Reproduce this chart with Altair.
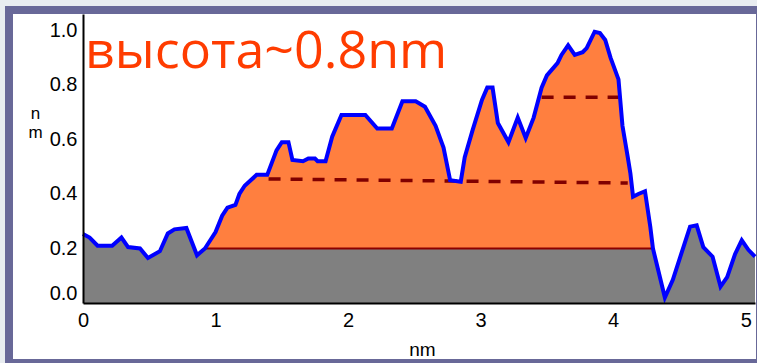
import altair as alt
import pandas as pd

# Height profile along the scan line (nm vs nm)
profile_x = [0.00, 0.05, 0.11, 0.22, 0.29, 0.34, 0.43, 0.49, 0.58, 0.64, 0.69, 0.78,
             0.86, 0.92, 1.00, 1.05, 1.09, 1.15, 1.18, 1.22, 1.31, 1.39, 1.46, 1.50,
             1.55, 1.58, 1.66, 1.70, 1.75, 1.77, 1.83, 1.88, 1.95, 2.13, 2.22, 2.33,
             2.41, 2.51, 2.58, 2.66, 2.72, 2.77, 2.85, 2.88, 2.94, 3.01, 3.05, 3.09,
             3.13, 3.21, 3.28, 3.34, 3.40, 3.46, 3.50, 3.58, 3.61, 3.66, 3.71, 3.77,
             3.80, 3.86, 3.90, 3.94, 3.98, 4.04, 4.07, 4.11, 4.13, 4.15, 4.19, 4.24,
             4.28, 4.30, 4.34, 4.39, 4.45, 4.53, 4.58, 4.63, 4.68, 4.75, 4.81, 4.86,
             4.92, 4.97, 5.02, 5.07]
profile_y = [0.253, 0.24, 0.21, 0.21, 0.24, 0.205, 0.20, 0.165, 0.19, 0.255, 0.27, 0.275,
             0.175, 0.20, 0.26, 0.32, 0.35, 0.36, 0.40, 0.43, 0.47, 0.47, 0.56, 0.59,
             0.59, 0.525, 0.52, 0.53, 0.53, 0.52, 0.52, 0.61, 0.69, 0.69, 0.64, 0.64,
             0.74, 0.74, 0.72, 0.65, 0.57, 0.45, 0.445, 0.535, 0.635, 0.745, 0.79, 0.79,
             0.66, 0.59, 0.68, 0.605, 0.68, 0.79, 0.835, 0.88, 0.91, 0.945, 0.91, 0.92,
             0.935, 0.995, 0.99, 0.965, 0.90, 0.82, 0.65, 0.535, 0.475, 0.39, 0.40, 0.41,
             0.28, 0.20, 0.12, 0.02, 0.085, 0.205, 0.28, 0.285, 0.205, 0.17, 0.06, 0.095,
             0.18, 0.23, 0.195, 0.17]

# Island extent and substrate level
island_start = 0.92
island_end = 4.30
base_level = 0.2

# Terrace levels (dashed)
terrace_id = ["low", "low", "high", "high"]
terrace_x = [1.40, 4.11, 3.46, 4.04]
terrace_y = [0.455, 0.44, 0.755, 0.755]

x_ticks = [0, 1, 2, 3, 4, 5]
y_ticks = [0.0, 0.2, 0.4, 0.6, 0.8, 1.0]
annotation = "высота~0.8nm"

profile = pd.DataFrame({"x": profile_x, "y": profile_y})
island = profile[(profile.x >= island_start) & (profile.x <= island_end)]
terraces = pd.DataFrame({"seg": terrace_id, "x": terrace_x, "y": terrace_y})

x_scale = alt.Scale(domain=[0, 5.07], nice=False, zero=False)
y_scale = alt.Scale(domain=[0, 1.06], nice=False)

label_font = "Liberation Sans"

x_axis = alt.Axis(values=x_ticks, format="d", labelFlush=False, ticks=False, grid=False,
                  domainColor="black", domainWidth=2, labelFont=label_font,
                  labelFontSize=20, labelColor="black", labelPadding=7,
                  title="nm", titleFont=label_font, titleFontSize=19,
                  titleFontWeight="normal", titleColor="black", titleX=339, titleY=52,
                  titleAlign="center", titleBaseline="alphabetic", zindex=1)
y_axis = alt.Axis(values=y_ticks, format=".1f", labelFlush=True, ticks=False, grid=False,
                  domainColor="black", domainWidth=2, labelFont=label_font,
                  labelFontSize=20, labelColor="black", labelPadding=6,
                  title=["n", "m"], titleFont=label_font, titleFontSize=17,
                  titleFontWeight="normal", titleColor="black", titleAngle=0,
                  titleX=-48, titleY=104, titleAlign="center",
                  titleBaseline="alphabetic", titleLineHeight=19, zindex=1)

frame = alt.Chart(pd.DataFrame({"k": [0]})).mark_rect(
    fill="white", stroke="#686898", strokeWidth=8
).encode(x=alt.value(-74), x2=alt.value(677), y=alt.value(-4), y2=alt.value(349))

substrate = alt.Chart(profile).mark_area(color="#808080").encode(
    x=alt.X("x:Q", scale=x_scale, axis=x_axis),
    y=alt.Y("y:Q", scale=y_scale, axis=y_axis),
)

island_area = alt.Chart(island).mark_area(color="#ff7f3f").encode(
    x="x:Q", y="y:Q", y2=alt.datum(base_level)
)

base_rule = alt.Chart(pd.DataFrame({"k": [0]})).mark_rule(
    color="#8b0000", strokeWidth=2
).encode(x=alt.datum(island_start), x2=alt.datum(island_end), y=alt.datum(base_level))

terrace_lines = alt.Chart(terraces).mark_line(
    color="#800000", strokeWidth=3.5, strokeDash=[12, 10]
).encode(x="x:Q", y="y:Q", detail="seg:N")

trace = alt.Chart(profile).mark_line(color="#0000ff", strokeWidth=4).encode(
    x="x:Q", y="y:Q"
)

note = alt.Chart(pd.DataFrame({"t": [annotation]})).mark_text(
    align="left", baseline="alphabetic", font="Open Sans", fontSize=52, color="#ff3c00"
).encode(x=alt.value(2), y=alt.value(54), text="t:N")

chart = alt.layer(frame, substrate, island_area, base_rule, terrace_lines, trace, note).properties(
    width=672, height=289,
    autosize=alt.AutoSizeParams(type="none"),
    padding={"left": 83, "top": 14, "right": 2, "bottom": 60},
    background="#e8ecf0",
).configure_view(stroke=None)

chart.save("out.html", embed_options={"renderer": "svg", "actions": False})
